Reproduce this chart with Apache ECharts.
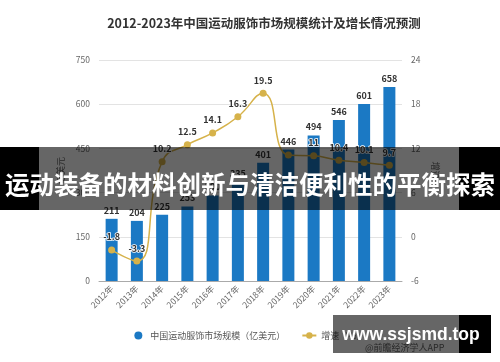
<!DOCTYPE html>
<html><head><meta charset="utf-8">
<script src="https://cdn.jsdelivr.net/npm/echarts@6/dist/echarts.min.js"></script>
<style>html,body{margin:0;padding:0;background:#fff}#c{width:500px;height:362px}</style>
</head><body><div id="c"></div>
<script>
var titleText = '2012-2023年中国运动服饰市场规模统计及增长情况预测';
var categories = ['2012年','2013年','2014年','2015年','2016年','2017年','2018年','2019年','2020年','2021年','2022年','2023年'];
var marketSize = [211, 204, 225, 253, 290, 335, 401, 446, 494, 546, 601, 658];
var growthRate = [-1.8, -3.3, 10.2, 12.5, 14.1, 16.3, 19.5, 11.1, 11.0, 10.4, 10.1, 9.7];
var hiddenGrowthLabels = ['2019年'];
var leftTicks = {min: 0, max: 750, interval: 150};
var rightTicks = {min: -6, max: 24, interval: 6};
var seriesNames = ['中国运动服饰市场规模（亿美元）', '增速（%）'];
var bannerText = '运动装备的材料创新与清洁便利性的平衡探索';
var siteText = 'www.ssjsmd.top';
var sourceText = '@前瞻经济学人APP';

var font = '"Noto Sans CJK SC", "Noto Sans", sans-serif';
var chart = echarts.init(document.getElementById('c'));
var growthData = growthRate.map(function (v, i) {
  var item = {value: v};
  if (hiddenGrowthLabels.indexOf(categories[i]) >= 0) item.label = {show: false};
  return item;
});
chart.setOption({
  animation: false,
  textStyle: {fontFamily: font},
  title: {
    text: titleText, left: 259, textAlign: 'center', top: 12,
    textStyle: {fontSize: 12.5, fontWeight: 'bold', color: '#333', fontFamily: font}
  },
  legend: {
    bottom: 17, left: 'center', itemGap: 16, itemWidth: 14, itemHeight: 8,
    textStyle: {fontSize: 9, color: '#555'},
    data: [{name: seriesNames[0], icon: 'circle'}, {name: seriesNames[1]}]
  },
  grid: {left: 99, right: 98, top: 60, bottom: 81, containLabel: false},
  xAxis: {
    type: 'category', data: categories,
    axisLine: {lineStyle: {color: '#aaa'}},
    axisTick: {alignWithLabel: true, lineStyle: {color: '#aaa'}, length: 4},
    axisLabel: {rotate: 45, fontSize: 8.5, color: '#666', margin: 6}
  },
  yAxis: [{
    type: 'value', min: leftTicks.min, max: leftTicks.max, interval: leftTicks.interval,
    name: '亿美元', nameLocation: 'middle', nameGap: 27, nameRotate: 90,
    nameTextStyle: {fontSize: 9, color: '#666'},
    axisLine: {show: false}, axisTick: {show: false},
    axisLabel: {fontSize: 8.5, color: '#666', margin: 9},
    splitLine: {lineStyle: {color: '#e3e3e3'}}
  }, {
    type: 'value', min: rightTicks.min, max: rightTicks.max, interval: rightTicks.interval,
    name: '增速', nameLocation: 'middle', nameGap: 26, nameRotate: -90,
    nameTextStyle: {fontSize: 9, color: '#666'},
    axisLine: {show: false}, axisTick: {show: false},
    axisLabel: {fontSize: 8.5, color: '#666', margin: 9},
    splitLine: {show: false}
  }],
  series: [{
    name: seriesNames[0], type: 'bar', data: marketSize, barWidth: 12,
    itemStyle: {color: '#1b79c4'},
    label: {show: true, position: 'top', fontSize: 9, fontWeight: 'bold', color: '#333', distance: 4}
  }, {
    name: seriesNames[1], type: 'line', yAxisIndex: 1, data: growthData,
    smooth: 0.5, symbol: 'circle', symbolSize: 7,
    itemStyle: {color: '#d6b24a'}, lineStyle: {color: '#d6b24a', width: 1.5},
    label: {show: true, position: 'top', fontSize: 9, fontWeight: 'bold', color: '#333',
      textBorderColor: '#fff', textBorderWidth: 1.5, distance: 5}
  }],
  graphic: [
    {type: 'text', left: 365, top: 343, z: 90, style: {text: sourceText, fontSize: 9, fill: '#666', fontFamily: font}},
    {type: 'rect', shape: {x: 0, y: 147, width: 39, height: 63}, style: {fill: '#000'}, z: 100},
    {type: 'rect', shape: {x: 39, y: 147, width: 420, height: 63}, style: {fill: 'rgba(0,0,0,0.6)'}, z: 100},
    {type: 'rect', shape: {x: 459, y: 147, width: 41, height: 63}, style: {fill: '#000'}, z: 100},
    {type: 'text', x: 250, y: 185, z: 101, style: {text: bannerText, fill: '#fff', fontSize: 24.5, fontWeight: 'bold',
      fontFamily: font, textAlign: 'center', textVerticalAlign: 'middle'}},
    {type: 'rect', shape: {x: 333, y: 315, width: 126, height: 38}, style: {fill: 'rgba(0,0,0,0.6)'}, z: 100},
    {type: 'rect', shape: {x: 459, y: 315, width: 32, height: 38}, style: {fill: '#000'}, z: 100},
    {type: 'text', x: 411, y: 335, z: 101, style: {text: siteText, fill: '#fff', fontSize: 17.5, fontWeight: 'bold',
      fontFamily: '"Liberation Sans", Arial, sans-serif', textAlign: 'center', textVerticalAlign: 'middle'}}
  ]
});
</script></body></html>
